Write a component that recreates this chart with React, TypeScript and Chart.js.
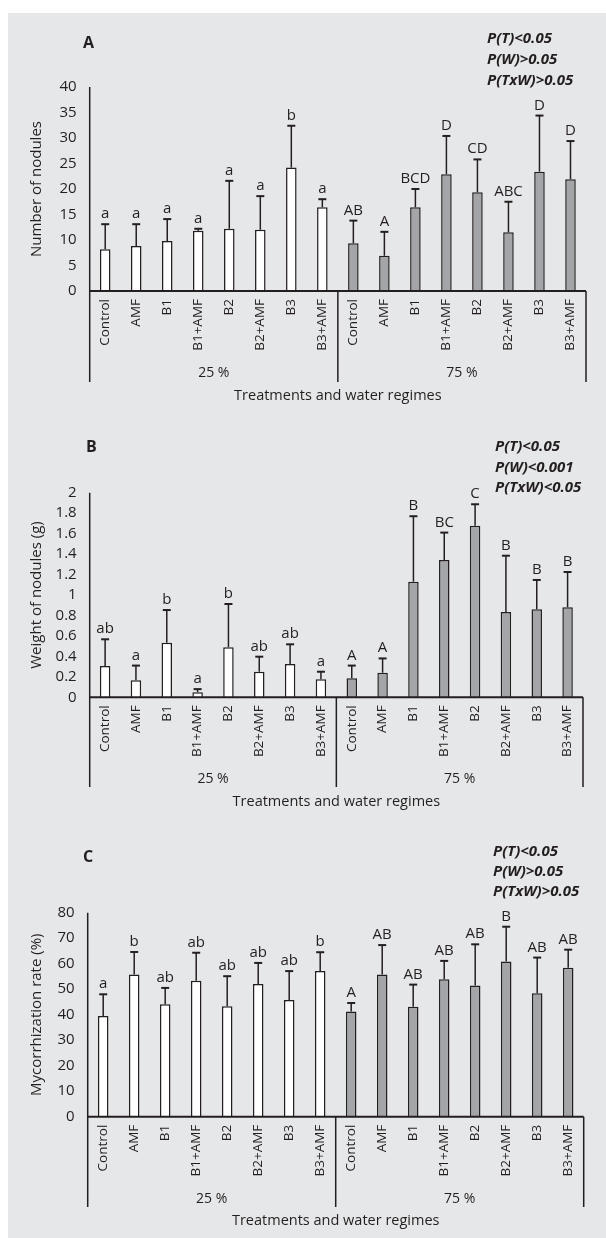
import React, { useEffect, useRef } from "react";
import { Chart, registerables } from "chart.js";
Chart.register(...registerables);

// ---------------- DATA ----------------
const CATEGORIES = [
  "Control", "AMF", "B1", "B1+AMF", "B2", "B2+AMF", "B3", "B3+AMF",
  "Control", "AMF", "B1", "B1+AMF", "B2", "B2+AMF", "B3", "B3+AMF",
];
const GROUPS = ["25 %", "75 %"];
const X_TITLE = "Treatments and water regimes";

// Panel A: number of nodules
const A_MEANS = [8.2, 8.8, 9.8, 11.8, 12.2, 12.0, 24.2, 16.4, 9.35, 6.9, 16.4, 22.9, 19.35, 11.5, 23.4, 21.9];
const A_SD = [4.9, 4.3, 4.3, 0.4, 9.4, 6.6, 8.2, 1.6, 4.45, 4.7, 3.6, 7.5, 6.45, 6.0, 11.0, 7.5];
const A_LETTERS = ["a", "a", "a", "a", "a", "a", "b", "a", "AB", "A", "BCD", "D", "CD", "ABC", "D", "D"];
const A_TICKS = [0, 5, 10, 15, 20, 25, 30, 35, 40];
const A_PVALUES = ["P(T)<0.05", "P(W)>0.05", "P(TxW)>0.05"];
const A_YTITLE = "Number of nodules";

// Panel B: weight of nodules
const B_MEANS = [0.306, 0.166, 0.534, 0.049, 0.49, 0.25, 0.325, 0.176, 0.186, 0.24, 1.13, 1.342, 1.677, 0.834, 0.86, 0.88];
const B_SD = [0.261, 0.144, 0.319, 0.031, 0.422, 0.147, 0.193, 0.074, 0.124, 0.14, 0.64, 0.268, 0.21, 0.55, 0.287, 0.345];
const B_LETTERS = ["ab", "a", "b", "a", "b", "ab", "ab", "a", "A", "A", "B", "BC", "C", "B", "B", "B"];
const B_TICKS = [0, 0.2, 0.4, 0.6, 0.8, 1, 1.2, 1.4, 1.6, 1.8, 2];
const B_PVALUES = ["P(T)<0.05", "P(W)<0.001", "P(TxW)<0.05"];
const B_YTITLE = "Weight of nodules (g)";

// Panel C: mycorrhization rate
const C_MEANS = [39.5, 55.8, 44.1, 53.3, 43.3, 52.0, 45.8, 57.1, 41.3, 55.8, 43.1, 53.9, 51.5, 60.9, 48.4, 58.4];
const C_SD = [8.5, 8.8, 6.4, 11.0, 11.8, 8.3, 11.3, 7.4, 3.3, 11.5, 8.7, 7.2, 16.1, 13.6, 14.0, 7.1];
const C_LETTERS = ["a", "b", "ab", "ab", "ab", "ab", "ab", "b", "A", "AB", "AB", "AB", "AB", "B", "AB", "AB"];
const C_TICKS = [0, 10, 20, 30, 40, 50, 60, 70, 80];
const C_PVALUES = ["P(T)<0.05", "P(W)>0.05", "P(TxW)>0.05"];
const C_YTITLE = "Mycorrhization rate (%)";

// ---------------- STYLE ----------------
const FONT = '"Open Sans", "Liberation Sans", sans-serif';
const INK = "#231f20";
const BG = "#e6e7e8";
const GREY = "#a3a5a8";
const WHITE = "#ffffff";

type Panel = {
  key: string;
  label: string;
  means: number[];
  sd: number[];
  letters: string[];
  ticks: number[];
  pvalues: string[];
  yTitle: string;
  height: number;
  top: number;
  padTop: number;
  padRight: number;
  yWidth: number;
  xHeight: number;
  labelPos: [number, number];
  pX: number;
  pY: number[];
  groupY: number;
  sepBottom: number;
  titleY: number;
  yTitleX: number;
};

const PANELS: Panel[] = [
  {
    key: "A", label: "A", means: A_MEANS, sd: A_SD, letters: A_LETTERS, ticks: A_TICKS,
    pvalues: A_PVALUES, yTitle: A_YTITLE,
    height: 400, top: 0, padTop: 74, padRight: 20, yWidth: 81.7, xHeight: 122,
    labelPos: [75, 30], pX: 479, pY: [26, 47, 68], groupY: 360, sepBottom: 369, titleY: 383, yTitleX: 29,
  },
  {
    key: "B", label: "B", means: B_MEANS, sd: B_SD, letters: B_LETTERS, ticks: B_TICKS,
    pvalues: B_PVALUES, yTitle: B_YTITLE,
    height: 409, top: 400, padTop: 79.7, padRight: 23, yWidth: 81.7, xHeight: 124.7,
    labelPos: [78, 34], pX: 487, pY: [34, 55, 75], groupY: 366, sepBottom: 374, titleY: 389, yTitleX: 29,
  },
  {
    key: "C", label: "C", means: C_MEANS, sd: C_SD, letters: C_LETTERS, ticks: C_TICKS,
    pvalues: C_PVALUES, yTitle: C_YTITLE,
    height: 416, top: 809, padTop: 90.7, padRight: 22.3, yWidth: 79.7, xHeight: 121.3,
    labelPos: [75, 35], pX: 485, pY: [30, 50, 70], groupY: 377, sepBottom: 385, titleY: 399, yTitleX: 29,
  },
];

function makeDecor(p: Panel) {
  return {
    id: "decor" + p.key,
    afterDatasetsDraw(chart: any) {
      const ctx = chart.ctx;
      const meta = chart.getDatasetMeta(0);
      const ys = chart.scales.y;
      ctx.save();
      ctx.strokeStyle = INK;
      ctx.fillStyle = INK;
      meta.data.forEach((bar: any, i: number) => {
        const x = bar.x;
        const yTop = ys.getPixelForValue(p.means[i]);
        const yErr = ys.getPixelForValue(p.means[i] + p.sd[i]);
        ctx.lineWidth = 1.5;
        ctx.beginPath();
        ctx.moveTo(x, yTop);
        ctx.lineTo(x, yErr);
        ctx.stroke();
        ctx.lineWidth = 2;
        ctx.beginPath();
        ctx.moveTo(x - 4, yErr);
        ctx.lineTo(x + 4, yErr);
        ctx.stroke();
        ctx.font = `15px ${FONT}`;
        ctx.textAlign = "center";
        ctx.textBaseline = "alphabetic";
        ctx.fillText(p.letters[i], x, yErr - 6);
      });
      ctx.restore();
    },
    afterDraw(chart: any) {
      const ctx = chart.ctx;
      const ca = chart.chartArea;
      const xs = chart.scales.x;
      ctx.save();
      ctx.strokeStyle = INK;
      ctx.fillStyle = INK;
      // y axis line (extends down to bottom of group area)
      ctx.lineWidth = 1.5;
      ctx.beginPath();
      ctx.moveTo(ca.left, ca.top);
      ctx.lineTo(ca.left, p.sepBottom);
      ctx.stroke();
      // middle separator and right end
      const mid = (xs.getPixelForValue(7) + xs.getPixelForValue(8)) / 2;
      ctx.beginPath();
      ctx.moveTo(mid, ca.bottom);
      ctx.lineTo(mid, p.sepBottom);
      ctx.moveTo(ca.right, ca.bottom);
      ctx.lineTo(ca.right, p.sepBottom);
      ctx.stroke();
      // x axis line
      ctx.lineWidth = 2;
      ctx.beginPath();
      ctx.moveTo(ca.left, ca.bottom);
      ctx.lineTo(ca.right, ca.bottom);
      ctx.stroke();
      // group labels
      ctx.font = `14px ${FONT}`;
      ctx.textAlign = "center";
      ctx.textBaseline = "middle";
      ctx.fillText(GROUPS[0], (ca.left + mid) / 2, p.groupY);
      ctx.fillText(GROUPS[1], (mid + ca.right) / 2, p.groupY);
      // x title
      ctx.font = `14.5px ${FONT}`;
      ctx.fillText(X_TITLE, (ca.left + ca.right) / 2, p.titleY);
      // y title
      ctx.save();
      ctx.font = `15px ${FONT}`;
      ctx.translate(p.yTitleX, (ca.top + ca.bottom) / 2);
      ctx.rotate(-Math.PI / 2);
      ctx.fillText(p.yTitle, 0, 0);
      ctx.restore();
      // panel label
      ctx.font = `bold 16px ${FONT}`;
      ctx.textAlign = "left";
      ctx.fillText(p.label, p.labelPos[0], p.labelPos[1]);
      // p-values
      ctx.font = `italic bold 15px ${FONT}`;
      p.pvalues.forEach((t, i) => ctx.fillText(t, p.pX, p.pY[i]));
      ctx.restore();
    },
  };
}

function PanelChart({ p }: { p: Panel }) {
  const ref = useRef<HTMLCanvasElement | null>(null);
  useEffect(() => {
    if (!ref.current) return;
    const colors = p.means.map((_, i) => (i < 8 ? WHITE : GREY));
    const chart = new Chart(ref.current, {
      type: "bar",
      data: {
        labels: CATEGORIES,
        datasets: [
          {
            data: p.means,
            backgroundColor: colors,
            borderColor: INK,
            borderWidth: 1.5,
            barPercentage: 0.34,
            categoryPercentage: 1,
          },
        ],
      },
      options: {
        responsive: false,
        animation: false,
        devicePixelRatio: 1,
        layout: { padding: { top: p.padTop, right: p.padRight, left: 0, bottom: 0 } },
        plugins: { legend: { display: false }, tooltip: { enabled: false }, title: { display: false } },
        scales: {
          x: {
            grid: { display: false, drawTicks: false },
            border: { display: false },
            ticks: {
              minRotation: 90, maxRotation: 90, autoSkip: false, padding: 8,
              color: INK, font: { family: FONT, size: 13.5 },
            },
            afterFit: (s: any) => { s.height = p.xHeight; },
          },
          y: {
            min: p.ticks[0],
            max: p.ticks[p.ticks.length - 1],
            grid: { display: false, drawTicks: false },
            border: { display: false },
            ticks: {
              autoSkip: false,
              padding: 13, color: INK, font: { family: FONT, size: 15 },
              callback: (v: any) => String(v),
            },
            afterBuildTicks: (s: any) => { s.ticks = p.ticks.map((v) => ({ value: v })); },
            afterFit: (s: any) => { s.width = p.yWidth; },
          },
        },
      },
      plugins: [makeDecor(p)],
    } as any);
    return () => chart.destroy();
  }, [p]);
  return (
    <canvas
      ref={ref}
      width={598}
      height={p.height}
      style={{ position: "absolute", left: 0, top: p.top, width: 598, height: p.height }}
    />
  );
}

export default function App() {
  return (
    <div style={{ position: "absolute", left: 8, top: 13, width: 598, height: 1225, background: BG, overflow: "hidden" }}>
      {PANELS.map((p) => (
        <PanelChart key={p.key} p={p} />
      ))}
    </div>
  );
}
